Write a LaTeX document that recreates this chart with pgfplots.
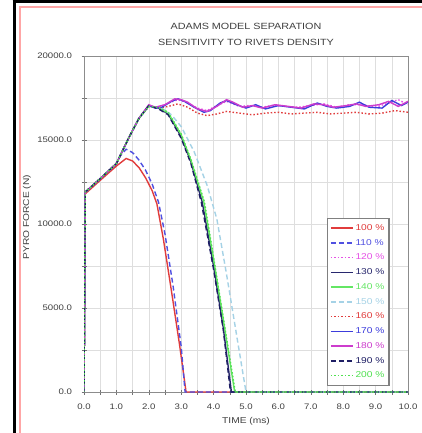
\documentclass[border=0pt]{standalone}
\usepackage{fontspec}
\setmainfont{Liberation Sans}[FakeStretch=1.2]
\usepackage{pgfplots}
\pgfplotsset{compat=1.18}
\definecolor{c100}{RGB}{225,60,60}
\definecolor{c110}{RGB}{80,80,225}
\definecolor{c120}{RGB}{230,80,230}
\definecolor{c130}{RGB}{40,40,110}
\definecolor{c140}{RGB}{100,230,100}
\definecolor{c150}{RGB}{165,210,230}
\definecolor{c160}{RGB}{225,60,60}
\definecolor{c170}{RGB}{60,60,220}
\definecolor{c180}{RGB}{205,60,205}
\definecolor{c190}{RGB}{30,30,100}
\definecolor{c200}{RGB}{80,225,80}
\begin{document}
\begin{tikzpicture}
\path[use as bounding box] (0,0) rectangle (422pt,433pt);
\fill[white] (0,0) rectangle (422pt,433pt);
\begin{axis}[
  at={(84pt,41pt)}, anchor=south west,
  scale only axis, width=324pt, height=336pt,
  xmin=0, xmax=10, ymin=0, ymax=20000,
  xtick={0,1,...,10}, minor xtick={0.5,1.5,...,9.5},
  ytick={0,5000,...,20000}, minor ytick={2500,7500,12500,17500},
  grid=both,
  major grid style={draw=black!13},
  minor grid style={draw=black!13},
  axis line style={draw=black!45, line width=0.9pt},
  tick style={draw=black!55, line width=0.6pt},
  major tick length=5pt, minor tick length=5pt,
  tick align=center,
  xtick pos=bottom, ytick pos=left,
  scaled y ticks=false,
  /pgf/number format/.cd, fixed, fixed zerofill, precision=1, 1000 sep={}, assume math mode=true,
  /pgfplots/.cd,
  tick label style={font=\fontsize{8}{9}\selectfont, text=black!75},
  yticklabel style={xshift=-6pt},
  xticklabel style={yshift=-6pt},
  xlabel={TIME (ms)},
  ylabel={PYRO FORCE (N)},
  label style={font=\fontsize{8.5}{9}\selectfont, text=black!75},
  xlabel style={at={(axis description cs:0.5,-0.087)}, anchor=center},
  ylabel style={at={(axis description cs:-0.176,0.52)}, anchor=center},
  title={ADAMS MODEL SEPARATION\\SENSITIVITY TO RIVETS DENSITY},
  title style={font=\fontsize{9}{16}\selectfont, text=black!75, align=center, at={(axis description cs:0.5,1.046)}, anchor=center},
  legend style={at={(axis description cs:0.75,0.518)}, anchor=north west,
    draw=black!50, line width=1.1pt, fill=white,
    font=\fontsize{8.5}{9}\selectfont, row sep=3.3pt,
    inner xsep=2.5pt, inner ysep=4pt},
  legend cell align=left,
  legend image code/.code={\draw[#1, line width=1.5pt] (0pt,0pt) -- (22pt,0pt);},
  every axis plot/.append style={line width=1.4pt},
]
% 100 %
\addplot[c100] coordinates {(0,0)(0.04,11800)(0.5,12600)(1.0,13450)(1.3,13900)(1.5,13750)(1.7,13350)(1.9,12750)(2.1,12000)(2.25,11200)(2.45,9100)(2.7,6000)(2.95,2800)(3.15,0)(10,0)};
\addlegendentry{\textcolor{c100}{100 \%}}
% 110 %
\addplot[c110, dash pattern=on 5pt off 3pt] coordinates {(0,0)(0.04,11900)(0.5,12700)(1.0,13600)(1.1,14000)(1.3,14450)(1.5,14250)(1.7,13800)(1.9,13200)(2.1,12400)(2.3,11300)(2.5,9400)(2.75,6300)(3.0,2700)(3.12,0)(10,0)};
\addlegendentry{\textcolor{c110}{110 \%}}
% 120 %
\addplot[c120, dash pattern=on 1.5pt off 2pt] coordinates {(0,0)(0.04,11900)(0.5,12700)(1.0,13600)(1.15,14200)(1.4,15200)(1.7,16300)(2.0,17000)(2.3,16950)(2.6,17200)(2.9,17400)(3.2,17200)(3.5,16900)(3.8,16750)(4.1,17050)(4.4,17300)(4.8,17000)(5.1,17050)(5.5,16950)(5.8,17050)(6.2,17000)(6.6,16950)(7.0,17050)(7.4,17150)(7.8,16950)(8.2,17100)(8.6,17100)(9.0,16950)(9.4,17200)(9.7,17400)(10.0,17100)};
\addlegendentry{\textcolor{c120}{120 \%}}
% 130 %
\addplot[c130] coordinates {(0,0)(0.04,11900)(0.5,12700)(1.0,13600)(1.15,14200)(1.4,15200)(1.7,16300)(2.0,17050)(2.3,16900)(2.6,16550)(3.0,15200)(3.3,13700)(3.65,11300)(4.0,7500)(4.3,3800)(4.55,0)(10,0)};
\addlegendentry{\textcolor{c130}{130 \%}}
% 140 %
\addplot[c140] coordinates {(0,0)(0.04,11900)(0.5,12700)(1.0,13600)(1.15,14200)(1.4,15200)(1.7,16300)(2.0,17000)(2.3,16950)(2.6,16600)(3.0,15300)(3.3,13800)(3.7,11300)(4.0,7900)(4.3,4300)(4.65,0)(10,0)};
\addlegendentry{\textcolor{c140}{140 \%}}
% 150 %
\addplot[c150, dash pattern=on 5pt off 3pt] coordinates {(0,0)(0.04,11900)(0.5,12700)(1.0,13600)(1.15,14200)(1.4,15200)(1.7,16300)(2.0,17000)(2.4,16900)(2.7,16500)(3.0,15800)(3.4,14300)(3.8,12300)(4.1,10300)(4.4,7000)(4.7,3500)(5.0,0)(10,0)};
\addlegendentry{\textcolor{c150}{150 \%}}
% 160 %
\addplot[c160, dash pattern=on 1.5pt off 2pt] coordinates {(0,0)(0.04,11900)(0.5,12700)(1.0,13600)(1.15,14200)(1.4,15200)(1.7,16300)(2.0,17000)(2.3,16900)(2.6,17000)(2.9,17150)(3.2,16950)(3.5,16600)(3.8,16450)(4.1,16550)(4.4,16700)(4.8,16600)(5.2,16500)(5.6,16600)(6.0,16650)(6.4,16550)(6.8,16600)(7.2,16650)(7.6,16550)(8.0,16600)(8.4,16650)(8.8,16550)(9.2,16600)(9.6,16750)(10.0,16650)};
\addlegendentry{\textcolor{c160}{160 \%}}
% 170 %
\addplot[c170] coordinates {(0,0)(0.04,11900)(0.5,12700)(1.0,13600)(1.15,14200)(1.4,15200)(1.7,16300)(2.0,17050)(2.2,16900)(2.4,16950)(2.7,17300)(2.9,17450)(3.1,17300)(3.4,16950)(3.7,16650)(3.9,16750)(4.2,17200)(4.4,17350)(4.7,17100)(5.0,16900)(5.3,17100)(5.6,16850)(6.0,17050)(6.4,16950)(6.8,16850)(7.2,17200)(7.5,17000)(7.8,16900)(8.2,17000)(8.5,17250)(8.8,16950)(9.2,16900)(9.5,17350)(9.8,17050)(10.0,17250)};
\addlegendentry{\textcolor{c170}{170 \%}}
% 180 %
\addplot[c180] coordinates {(0,0)(0.04,11900)(0.5,12700)(1.0,13600)(1.15,14200)(1.4,15200)(1.7,16300)(2.0,17100)(2.2,16950)(2.5,17100)(2.8,17450)(3.0,17400)(3.2,17250)(3.5,16850)(3.8,16700)(4.1,17000)(4.4,17400)(4.6,17250)(4.9,16950)(5.2,17050)(5.5,16900)(5.9,17100)(6.3,17000)(6.7,16900)(7.1,17150)(7.4,17100)(7.7,16950)(8.1,17050)(8.4,17150)(8.7,17000)(9.1,17100)(9.4,17300)(9.7,17000)(10.0,17300)};
\addlegendentry{\textcolor{c180}{180 \%}}
% 190 %
\addplot[c190, dash pattern=on 5pt off 3pt] coordinates {(0,0)(0.04,11900)(0.5,12700)(1.0,13600)(1.15,14200)(1.4,15200)(1.7,16300)(2.0,17050)(2.3,16850)(2.6,16500)(3.0,15100)(3.3,13600)(3.62,11300)(4.0,7300)(4.3,3700)(4.52,0)(10,0)};
\addlegendentry{\textcolor{c190}{190 \%}}
% 200 %
\addplot[c200, dash pattern=on 1.5pt off 2pt] coordinates {(0,0)(0.04,11900)(0.5,12700)(1.0,13600)(1.15,14200)(1.4,15200)(1.7,16300)(2.0,17000)(2.3,16950)(2.6,16650)(3.0,15350)(3.3,13850)(3.72,11300)(4.0,8000)(4.3,4400)(4.67,0)(10,0)};
\addlegendentry{\textcolor{c200}{200 \%}}
\end{axis}
\draw[black, line width=3pt] (14pt,0) -- (14pt,433pt);
\draw[black, line width=3pt] (12.5pt,431.5pt) -- (422pt,431.5pt);
\draw[red!35, line width=1.5pt] (20pt,0) -- (20pt,426pt) -- (422pt,426pt);
\end{tikzpicture}
\end{document}
